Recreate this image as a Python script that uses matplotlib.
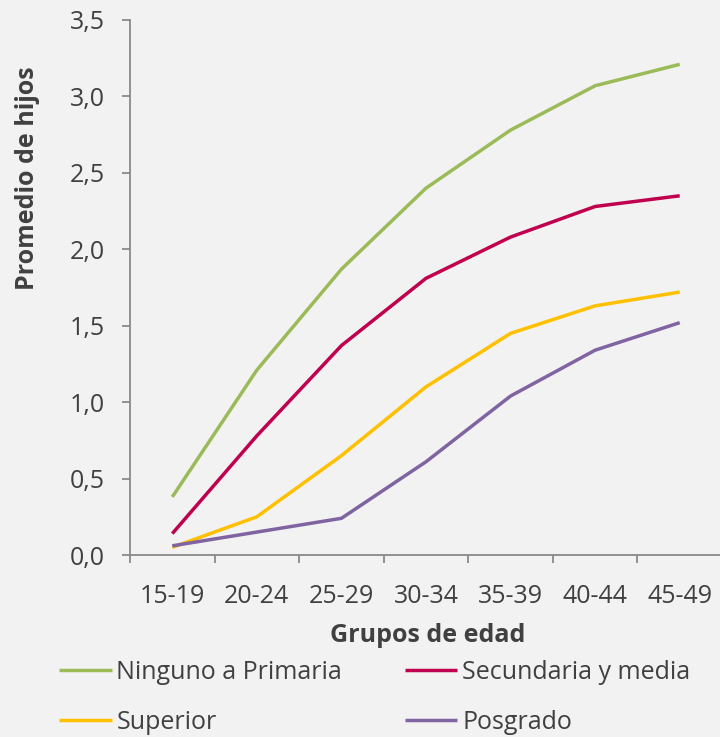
import matplotlib.pyplot as plt
from matplotlib.ticker import MultipleLocator, FuncFormatter

# datos
grupos = ['15-19', '20-24', '25-29', '30-34', '35-39', '40-44', '45-49']
ninguno_primaria = [0.38, 1.21, 1.87, 2.40, 2.78, 3.07, 3.21]
secundaria_media = [0.14, 0.78, 1.37, 1.81, 2.08, 2.28, 2.35]
superior = [0.05, 0.25, 0.65, 1.10, 1.45, 1.63, 1.72]
posgrado = [0.06, 0.15, 0.24, 0.61, 1.04, 1.34, 1.52]

series = [
    ('Ninguno a Primaria', ninguno_primaria, '#9BBB59'),
    ('Secundaria y media', secundaria_media, '#C0004E'),
    ('Superior', superior, '#FFC000'),
    ('Posgrado', posgrado, '#8064A2'),
]

plt.rcParams['font.family'] = ['Open Sans', 'DejaVu Sans']
bg = '#F2F2F2'
txt = '#404040'
spine = '#898989'
fs = 18

fig = plt.figure(figsize=(7.2, 7.37), dpi=100, facecolor=bg)
ax = fig.add_axes([130 / 720, 182 / 737, 592 / 720, 535 / 737], facecolor=bg)

x = list(range(len(grupos)))
lineas = {}
for nombre, vals, color in series:
    lineas[nombre], = ax.plot(x, vals, color=color, lw=2.5, label=nombre, solid_capstyle='butt')

ax.set_xlim(-0.5, len(grupos) - 0.5)
ax.set_ylim(0, 3.5)
ax.yaxis.set_major_locator(MultipleLocator(0.5))
ax.yaxis.set_major_formatter(FuncFormatter(lambda v, p: f'{v:.1f}'.replace('.', ',')))

# marcas del eje x entre categorias
ax.set_xticks([i - 0.5 for i in x], minor=False)
ax.set_xticklabels([])
ax.set_xticks(x, minor=True)
ax.set_xticklabels(grupos, minor=True)
ax.tick_params(axis='x', which='major', length=6, width=1.3, color=spine, direction='out')
ax.tick_params(axis='x', which='minor', length=0, pad=21, labelsize=fs, labelcolor=txt)
ax.tick_params(axis='y', length=6, width=1.3, color=spine, pad=12, labelsize=fs, labelcolor=txt)

for s in ['top', 'right']:
    ax.spines[s].set_visible(False)
for s in ['left', 'bottom']:
    ax.spines[s].set_color(spine)
    ax.spines[s].set_linewidth(1.3)

fig.text(28 / 720, 1 - 178 / 737, 'Promedio de hijos', rotation=90, ha='center', va='center',
         fontsize=fs, fontweight='bold', color=txt)
fig.text(428 / 720, 1 - 636 / 737, 'Grupos de edad', ha='center', va='center',
         fontsize=fs, fontweight='bold', color=txt)

# leyenda ordenada por filas
orden = ['Ninguno a Primaria', 'Superior', 'Secundaria y media', 'Posgrado']
fig.legend([lineas[n] for n in orden], orden, loc='upper left',
           bbox_to_anchor=(49 / 720, 1 - 650 / 737), ncol=2, frameon=False,
           fontsize=fs, handlelength=2.1, handletextpad=0.2, columnspacing=2.5,
           labelspacing=1.0, labelcolor=txt, borderaxespad=0)

fig.savefig('out.png', dpi=100, facecolor=bg)
